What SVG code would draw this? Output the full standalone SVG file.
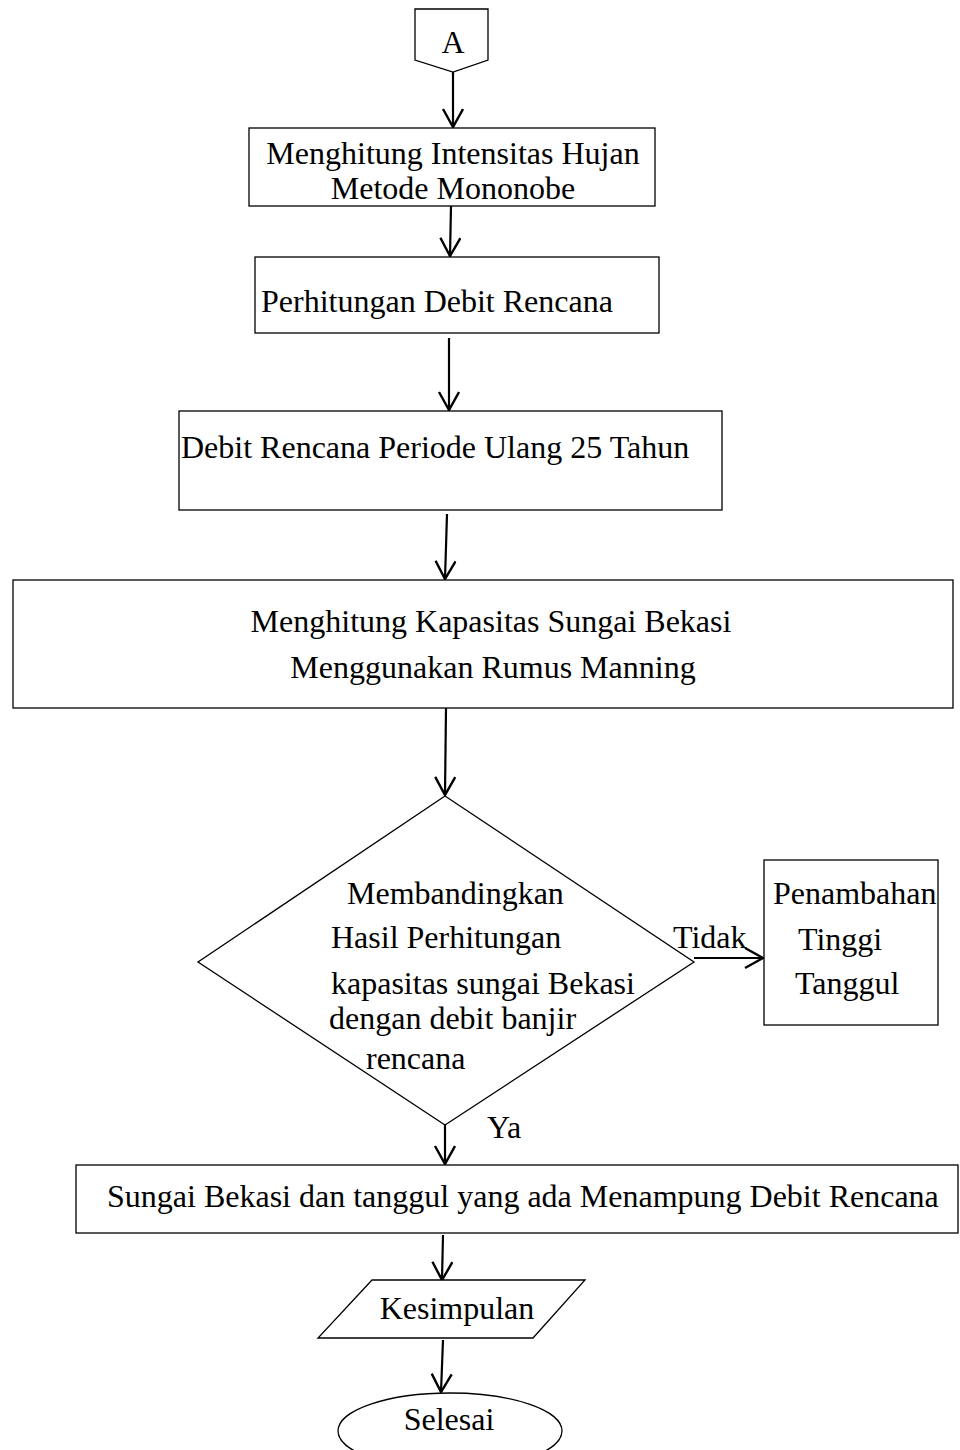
<svg xmlns="http://www.w3.org/2000/svg" width="960" height="1450" viewBox="0 0 960 1450">
<style>
.s{fill:#fff;stroke:#000;stroke-width:1.3}
.t{font-family:"Liberation Serif","Times New Roman",serif;font-size:32px;fill:#000}
.c{fill:none;stroke:#000;stroke-width:2.2}
</style>
<defs>
<marker id="ah" markerWidth="24" markerHeight="26" refX="19" refY="11" orient="auto" markerUnits="userSpaceOnUse">
<path d="M1,1 L19,11 L1,21" fill="none" stroke="#000" stroke-width="2.4"/>
</marker>
</defs>
<rect width="960" height="1450" fill="#fff"/>
<g id="connectors">
<line class="c" x1="453" y1="72" x2="453" y2="127" marker-end="url(#ah)"/>
<line class="c" x1="451" y1="206" x2="450" y2="256" marker-end="url(#ah)"/>
<line class="c" x1="449" y1="338" x2="449" y2="410" marker-end="url(#ah)"/>
<line class="c" x1="447" y1="514" x2="445" y2="579" marker-end="url(#ah)"/>
<line class="c" x1="446" y1="708" x2="445" y2="795" marker-end="url(#ah)"/>
<line class="c" x1="694" y1="958" x2="763" y2="958" marker-end="url(#ah)"/>
<line class="c" x1="445" y1="1120" x2="445" y2="1164" marker-end="url(#ah)"/>
<line class="c" x1="443" y1="1235" x2="442" y2="1280" marker-end="url(#ah)"/>
<line class="c" x1="443" y1="1340" x2="441" y2="1392" marker-end="url(#ah)"/>
</g>
<g id="start">
<path class="s" d="M415,9 L488,9 L488,60 L453,72 L415,60 Z"/>
<text class="t" x="453" y="53" text-anchor="middle">A</text>
</g>
<g id="n1">
<rect class="s" x="249" y="128" width="406" height="78"/>
<text class="t" x="453" y="164" text-anchor="middle">Menghitung Intensitas Hujan</text>
<text class="t" x="453" y="199" text-anchor="middle">Metode Mononobe</text>
</g>
<g id="n2">
<rect class="s" x="255" y="257" width="404" height="76"/>
<text class="t" x="261" y="312">Perhitungan Debit Rencana</text>
</g>
<g id="n3">
<rect class="s" x="179" y="411" width="543" height="99"/>
<text class="t" x="181" y="458">Debit Rencana Periode Ulang 25 Tahun</text>
</g>
<g id="n4">
<rect class="s" x="13" y="580" width="940" height="128"/>
<text class="t" x="491" y="632" text-anchor="middle">Menghitung Kapasitas Sungai Bekasi</text>
<text class="t" x="493" y="678" text-anchor="middle">Menggunakan Rumus Manning</text>
</g>
<g id="decision">
<path class="s" d="M445,796 L694,962 L445,1125 L198,962 Z"/>
<text class="t" x="347" y="904">Membandingkan</text>
<text class="t" x="331" y="948">Hasil Perhitungan</text>
<text class="t" x="331" y="994">kapasitas sungai Bekasi</text>
<text class="t" x="329" y="1029">dengan debit banjir</text>
<text class="t" x="366" y="1069">rencana</text>
<text class="t" x="673" y="948">Tidak</text>
<text class="t" x="487" y="1138">Ya</text>
</g>
<g id="n5">
<rect class="s" x="764" y="860" width="174" height="165"/>
<text class="t" x="773" y="904">Penambahan</text>
<text class="t" x="798" y="950">Tinggi</text>
<text class="t" x="795" y="994">Tanggul</text>
</g>
<g id="n6">
<rect class="s" x="76" y="1165" width="882" height="68"/>
<text class="t" x="107" y="1207">Sungai Bekasi dan tanggul yang ada Menampung Debit Rencana</text>
</g>
<g id="n7">
<path class="s" d="M372,1280 L585,1280 L533,1338 L318,1338 Z"/>
<text class="t" x="457" y="1319" text-anchor="middle">Kesimpulan</text>
</g>
<g id="end">
<ellipse class="s" cx="450" cy="1431" rx="112" ry="38"/>
<text class="t" x="449" y="1430" text-anchor="middle">Selesai</text>
</g>
</svg>
